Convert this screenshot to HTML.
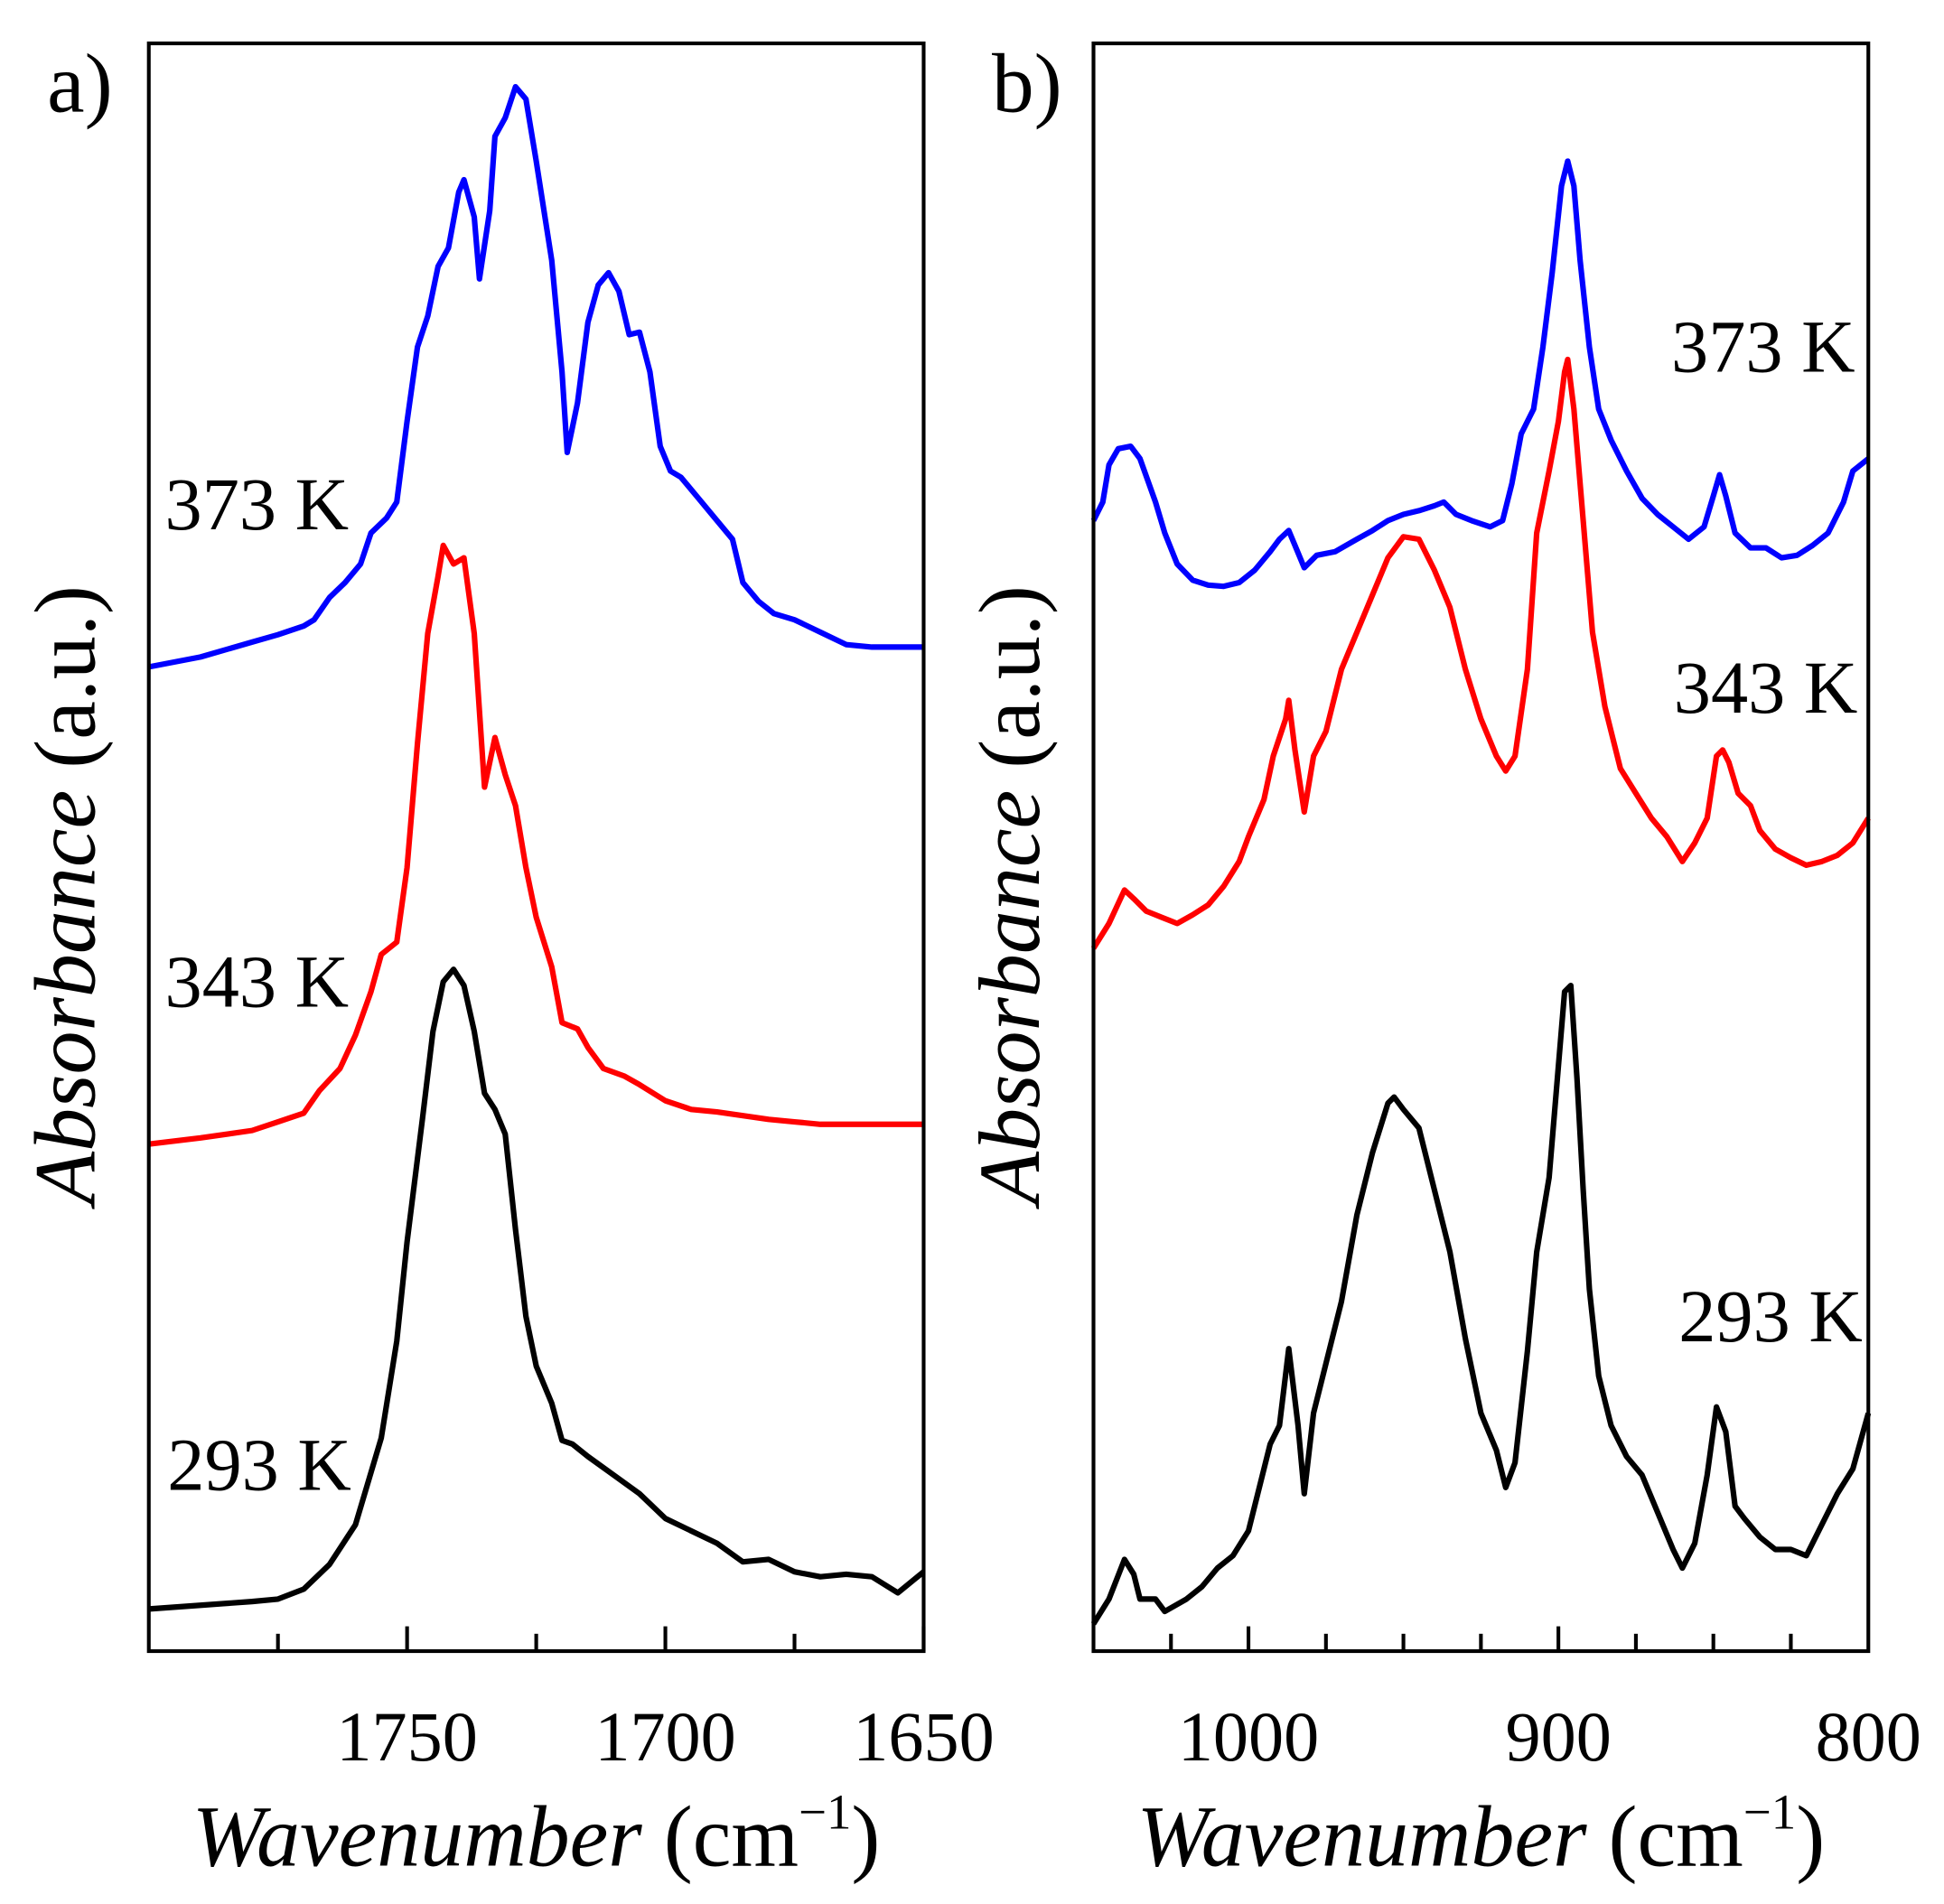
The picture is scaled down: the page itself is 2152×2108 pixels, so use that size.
<!DOCTYPE html>
<html><head><meta charset="utf-8"><style>
html,body{margin:0;padding:0;background:#fff;}
svg{display:block;font-family:"Liberation Serif",serif;}
</style></head><body>
<svg id="chart" width="2152" height="2108" viewBox="0 0 1568 1536" xmlns="http://www.w3.org/2000/svg">
<g id="pa"></g>
<g id="pb"></g>
</svg>
<script>
// Panel a data (wavenumber, absorbance a.u.)
const aBlackX=[1800,1790,1780,1775,1770,1765,1760,1755,1752,1750,1747,1745,1743,1741,1739,1737,1735,1733,1731,1729,1727,1725,1722,1720,1718,1715,1710,1705,1700,1695,1690,1685,1680,1675,1670,1665,1660,1655,1650];
const aBlackY=[3.4,3.7,4,4.2,5,7,10.2,17.2,25,33,43,50,54,55,53.7,50,45,43.7,41.7,34,27,23,20,17,16.7,15.7,14.2,12.7,10.7,9.7,8.7,7.2,7.4,6.4,6,6.2,6,4.7,6.4];
const aRedX=[1800,1790,1780,1775,1770,1767,1763,1760,1757,1755,1752,1750,1748,1746,1744,1743,1741,1739,1737,1735,1733,1731,1729,1727,1725,1722,1720,1717,1715,1712,1708,1705,1700,1695,1690,1685,1680,1675,1670,1650];
const aRedY=[40.9,41.4,42,42.7,43.4,45.2,47,49.7,53.2,56.2,57.2,63.2,73.2,82.1,86.7,89.2,87.7,88.2,82.1,69.7,73.7,70.7,68.2,63.2,59.2,55.2,50.7,50.2,48.7,47,46.4,45.7,44.4,43.7,43.5,43.2,42.9,42.7,42.5,42.5];
const aBlueX=[1800,1790,1780,1775,1770,1768,1765,1762,1759,1757,1754,1752,1750,1748,1746,1744,1742,1740,1739,1737,1736,1734,1733,1731,1729,1727,1725,1722,1720,1719,1717,1715,1713,1711,1709,1707,1705,1703,1701,1699,1697,1694,1690,1687,1685,1682,1679,1675,1670,1665,1660,1650];
const aBlueY=[79.4,80.2,81.4,82,82.7,83.2,85,86.2,87.7,90.2,91.4,92.7,99.2,105.2,107.7,111.7,113.2,117.7,118.7,115.7,110.7,116.2,122.2,123.7,126.2,125.2,120.2,112.2,103.2,96.7,100.7,107.2,110.2,111.2,109.7,106.2,106.4,103.2,97.2,95.2,94.7,93.2,91.2,89.7,86.2,84.7,83.7,83.2,82.2,81.2,81,81];
// Panel b data
const bBlackX=[1050,1045,1040,1037,1035,1030,1027,1020,1015,1010,1005,1000,997,993,990,987,984,982,979,975,970,965,960,955,953,950,945,940,935,930,925,920,917,914,910,907,903,900,898,896,894,892,890,887,883,878,873,868,863,860,856,852,849,846,843,840,835,830,825,820,815,810,805,800];
const bBlackY=[2.2,4.2,7.4,6.2,4.2,4.2,3.2,4.2,5.2,6.7,7.7,9.7,12.7,16.7,18.2,24.4,18.2,12.7,19.2,23.2,28.2,35.2,40.2,44.2,44.7,43.7,42.2,37.2,32.2,25.2,19.2,16.2,13.2,15.2,24.2,32.2,38.2,47.2,53.2,53.7,46.2,37.2,29.2,22.2,18.2,15.7,14.2,11.2,8.2,6.7,8.7,14.2,19.7,17.7,11.7,10.7,9.2,8.2,8.2,7.7,10.2,12.7,14.7,19.2];
const bRedX=[1050,1045,1040,1037,1033,1028,1023,1018,1013,1008,1003,1000,995,992,988,987,985,982,979,975,970,965,960,955,950,945,940,935,930,925,920,917,914,910,907,903,900,898,897,895,892,889,885,880,875,870,865,860,856,852,849,847,845,842,838,835,830,825,820,815,810,805,800];
const bRedY=[56.7,58.7,61.4,60.7,59.7,59.2,58.7,59.4,60.2,61.7,63.7,65.7,68.7,72.2,75.2,76.7,72.7,67.7,72.2,74.2,79.2,82.2,85.2,88.2,89.9,89.7,87.2,84.2,79.2,75.2,72.2,71,72.2,79.2,90.2,95.2,99.2,103.2,104.2,100.2,91.2,82.2,76.2,71.2,69.2,67.2,65.7,63.7,65.2,67.2,72.2,72.7,71.7,69.2,68.2,66.2,64.7,64,63.4,63.7,64.2,65.2,67.2];
const bBlueX=[1050,1047,1045,1042,1038,1035,1030,1027,1023,1018,1013,1008,1003,998,993,990,987,985,982,978,972,965,960,955,950,945,940,937,933,928,922,918,915,912,908,905,902,899,897,895,893,890,887,883,878,873,868,863,858,853,850,848,846,843,838,833,828,823,818,813,808,805,800];
const bBlueY=[91.2,92.7,95.7,97,97.2,96.2,92.7,90.2,87.7,86.4,86,85.9,86.2,87.2,88.7,89.7,90.4,89.2,87.4,88.4,88.7,89.7,90.4,91.2,91.7,92,92.4,92.7,91.7,91.2,90.7,91.2,94.2,98.2,100.2,105.2,111.2,118.2,120.2,118.2,112.2,105.2,100.2,97.7,95.2,93,91.7,90.7,89.7,90.7,93.2,94.9,93.2,90.2,89,89,88.2,88.4,89.2,90.2,92.7,95.2,96.2];
const aTicks=[1775,1750,1725,1700,1675,1650];
const aLabels=["1750","1700","1650"];
const bTicks=[1025,1000,975,950,925,900,875,850,825];
const bLabels=["1000","900","800"];

const NS="http://www.w3.org/2000/svg";
const Y0=1332,Y1=35;
function ys(v){return Y0-(v/129.7)*(Y0-Y1);}
function mk(tag,attrs,parent){const e=document.createElementNS(NS,tag);for(const k in attrs)e.setAttribute(k,attrs[k]);parent.appendChild(e);return e;}

function panel(g,left,right,wLeft,wRight,ticks,labels,series,letter,temps,prefix){
  const xs=w=>left+(wLeft-w)/(wLeft-wRight)*(right-left);
  for(const s of series){
    let d="";s.x.forEach((w,i)=>{d+=(i?"L":"M")+xs(w).toFixed(1)+","+ys(s.y[i]).toFixed(1);});
    const p=mk("path",{d:d,fill:"none",stroke:s.c,"stroke-width":4.5,"stroke-linejoin":"round"},g);
    
    
  }
  const fr=mk("rect",{x:left,y:Y1,width:right-left,height:Y0-Y1,fill:"none",stroke:"#000","stroke-width":3},g);
  
  
  for(const t of ticks){
    const major=labels.includes(String(t));
    const tk=mk("line",{x1:xs(t),x2:xs(t),y1:Y0,y2:Y0-(major?20:14),stroke:"#000","stroke-width":3},g);
    
    
  }
  for(const l of labels){
    const tx=mk("text",{x:xs(+l),y:1420,"font-size":57,"text-anchor":"middle"},g);
    tx.textContent=l;
    
    
  }
  const le=mk("text",{x:left-82,y:90,"font-size":68},g);le.textContent=letter;
  
  
  for(const t of temps){
    const tt=mk("text",{x:t[0],y:t[1],"font-size":60},g);tt.textContent=t[2];
    
    
  }
  const xt=mk("text",{x:(left+right)/2,y:1505,"font-size":70,"text-anchor":"middle"},g);
  xt.innerHTML='<tspan font-style="italic">Wavenumber</tspan> (cm<tspan font-size="40" dy="-30">−1</tspan><tspan dy="30">)</tspan>';
  
  
  const yt=mk("text",{x:0,y:0,"font-size":70,"text-anchor":"middle",transform:`translate(${left-44},722) rotate(-90)`},g);
  yt.innerHTML='<tspan font-style="italic">Absorbance</tspan> (a.u.)';
  
  
}
panel(document.getElementById("pa"),120,745,1800,1650,aTicks,aLabels,
 [{x:aBlueX,y:aBlueY,c:"#0000ff",n:"373k"},{x:aRedX,y:aRedY,c:"#ff0000",n:"343k"},{x:aBlackX,y:aBlackY,c:"#000",n:"293k"}],
 "a)",[[133,427,"373 K"],[133,812,"343 K"],[135,1202,"293 K"]],"panel-a");
panel(document.getElementById("pb"),882,1507,1050,800,bTicks,bLabels,
 [{x:bBlueX,y:bBlueY,c:"#0000ff",n:"373k"},{x:bRedX,y:bRedY,c:"#ff0000",n:"343k"},{x:bBlackX,y:bBlackY,c:"#000",n:"293k"}],
 "b)",[[1348,300,"373 K"],[1350,575,"343 K"],[1354,1082,"293 K"]],"panel-b");
</script>
</body></html>
